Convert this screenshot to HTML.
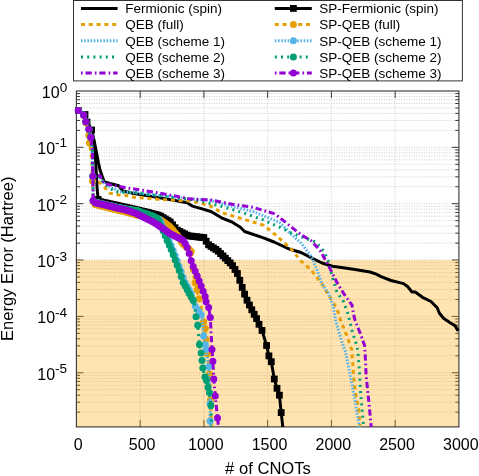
<!DOCTYPE html>
<html><head><meta charset="utf-8"><title>chart</title><style>html,body{margin:0;padding:0;background:#fff;}svg{display:block;will-change:transform;}</style></head><body>
<svg width="479" height="476" viewBox="0 0 479 476" font-family="Liberation Sans, sans-serif" fill="#000">
<rect width="479" height="476" fill="#fff"/>
<g stroke="#cdcdcd" stroke-width="1" stroke-dasharray="1 1.5" fill="none"><line x1="76.4" x2="458.9" y1="147.35" y2="147.35"/><line x1="76.4" x2="458.9" y1="203.70" y2="203.70"/><line x1="76.4" x2="458.9" y1="260.05" y2="260.05"/><line x1="76.4" x2="458.9" y1="316.40" y2="316.40"/><line x1="76.4" x2="458.9" y1="372.75" y2="372.75"/><line x1="76.4" x2="458.9" y1="130.39" y2="130.39"/><line x1="76.4" x2="458.9" y1="120.46" y2="120.46"/><line x1="76.4" x2="458.9" y1="113.42" y2="113.42"/><line x1="76.4" x2="458.9" y1="107.96" y2="107.96"/><line x1="76.4" x2="458.9" y1="103.50" y2="103.50"/><line x1="76.4" x2="458.9" y1="99.73" y2="99.73"/><line x1="76.4" x2="458.9" y1="96.46" y2="96.46"/><line x1="76.4" x2="458.9" y1="93.58" y2="93.58"/><line x1="76.4" x2="458.9" y1="186.74" y2="186.74"/><line x1="76.4" x2="458.9" y1="176.81" y2="176.81"/><line x1="76.4" x2="458.9" y1="169.77" y2="169.77"/><line x1="76.4" x2="458.9" y1="164.31" y2="164.31"/><line x1="76.4" x2="458.9" y1="159.85" y2="159.85"/><line x1="76.4" x2="458.9" y1="156.08" y2="156.08"/><line x1="76.4" x2="458.9" y1="152.81" y2="152.81"/><line x1="76.4" x2="458.9" y1="149.93" y2="149.93"/><line x1="76.4" x2="458.9" y1="243.09" y2="243.09"/><line x1="76.4" x2="458.9" y1="233.16" y2="233.16"/><line x1="76.4" x2="458.9" y1="226.12" y2="226.12"/><line x1="76.4" x2="458.9" y1="220.66" y2="220.66"/><line x1="76.4" x2="458.9" y1="216.20" y2="216.20"/><line x1="76.4" x2="458.9" y1="212.43" y2="212.43"/><line x1="76.4" x2="458.9" y1="209.16" y2="209.16"/><line x1="76.4" x2="458.9" y1="206.28" y2="206.28"/><line x1="76.4" x2="458.9" y1="299.44" y2="299.44"/><line x1="76.4" x2="458.9" y1="289.51" y2="289.51"/><line x1="76.4" x2="458.9" y1="282.47" y2="282.47"/><line x1="76.4" x2="458.9" y1="277.01" y2="277.01"/><line x1="76.4" x2="458.9" y1="272.55" y2="272.55"/><line x1="76.4" x2="458.9" y1="268.78" y2="268.78"/><line x1="76.4" x2="458.9" y1="265.51" y2="265.51"/><line x1="76.4" x2="458.9" y1="262.63" y2="262.63"/><line x1="76.4" x2="458.9" y1="355.79" y2="355.79"/><line x1="76.4" x2="458.9" y1="345.86" y2="345.86"/><line x1="76.4" x2="458.9" y1="338.82" y2="338.82"/><line x1="76.4" x2="458.9" y1="333.36" y2="333.36"/><line x1="76.4" x2="458.9" y1="328.90" y2="328.90"/><line x1="76.4" x2="458.9" y1="325.13" y2="325.13"/><line x1="76.4" x2="458.9" y1="321.86" y2="321.86"/><line x1="76.4" x2="458.9" y1="318.98" y2="318.98"/><line x1="76.4" x2="458.9" y1="412.14" y2="412.14"/><line x1="76.4" x2="458.9" y1="402.21" y2="402.21"/><line x1="76.4" x2="458.9" y1="395.17" y2="395.17"/><line x1="76.4" x2="458.9" y1="389.71" y2="389.71"/><line x1="76.4" x2="458.9" y1="385.25" y2="385.25"/><line x1="76.4" x2="458.9" y1="381.48" y2="381.48"/><line x1="76.4" x2="458.9" y1="378.21" y2="378.21"/><line x1="76.4" x2="458.9" y1="375.33" y2="375.33"/><line x1="140.15" x2="140.15" y1="91.0" y2="426.9"/><line x1="203.90" x2="203.90" y1="91.0" y2="426.9"/><line x1="267.65" x2="267.65" y1="91.0" y2="426.9"/><line x1="331.40" x2="331.40" y1="91.0" y2="426.9"/><line x1="395.15" x2="395.15" y1="91.0" y2="426.9"/></g>
<g stroke="#3a3a3a" stroke-width="1" fill="none"><line x1="76.4" x2="83.4" y1="147.35" y2="147.35"/><line x1="458.9" x2="451.9" y1="147.35" y2="147.35"/><line x1="76.4" x2="83.4" y1="203.70" y2="203.70"/><line x1="458.9" x2="451.9" y1="203.70" y2="203.70"/><line x1="76.4" x2="83.4" y1="260.05" y2="260.05"/><line x1="458.9" x2="451.9" y1="260.05" y2="260.05"/><line x1="76.4" x2="83.4" y1="316.40" y2="316.40"/><line x1="458.9" x2="451.9" y1="316.40" y2="316.40"/><line x1="76.4" x2="83.4" y1="372.75" y2="372.75"/><line x1="458.9" x2="451.9" y1="372.75" y2="372.75"/><line x1="76.4" x2="80.0" y1="130.39" y2="130.39"/><line x1="458.9" x2="455.29999999999995" y1="130.39" y2="130.39"/><line x1="76.4" x2="80.0" y1="120.46" y2="120.46"/><line x1="458.9" x2="455.29999999999995" y1="120.46" y2="120.46"/><line x1="76.4" x2="80.0" y1="113.42" y2="113.42"/><line x1="458.9" x2="455.29999999999995" y1="113.42" y2="113.42"/><line x1="76.4" x2="80.0" y1="107.96" y2="107.96"/><line x1="458.9" x2="455.29999999999995" y1="107.96" y2="107.96"/><line x1="76.4" x2="80.0" y1="103.50" y2="103.50"/><line x1="458.9" x2="455.29999999999995" y1="103.50" y2="103.50"/><line x1="76.4" x2="80.0" y1="99.73" y2="99.73"/><line x1="458.9" x2="455.29999999999995" y1="99.73" y2="99.73"/><line x1="76.4" x2="80.0" y1="96.46" y2="96.46"/><line x1="458.9" x2="455.29999999999995" y1="96.46" y2="96.46"/><line x1="76.4" x2="80.0" y1="93.58" y2="93.58"/><line x1="458.9" x2="455.29999999999995" y1="93.58" y2="93.58"/><line x1="76.4" x2="80.0" y1="186.74" y2="186.74"/><line x1="458.9" x2="455.29999999999995" y1="186.74" y2="186.74"/><line x1="76.4" x2="80.0" y1="176.81" y2="176.81"/><line x1="458.9" x2="455.29999999999995" y1="176.81" y2="176.81"/><line x1="76.4" x2="80.0" y1="169.77" y2="169.77"/><line x1="458.9" x2="455.29999999999995" y1="169.77" y2="169.77"/><line x1="76.4" x2="80.0" y1="164.31" y2="164.31"/><line x1="458.9" x2="455.29999999999995" y1="164.31" y2="164.31"/><line x1="76.4" x2="80.0" y1="159.85" y2="159.85"/><line x1="458.9" x2="455.29999999999995" y1="159.85" y2="159.85"/><line x1="76.4" x2="80.0" y1="156.08" y2="156.08"/><line x1="458.9" x2="455.29999999999995" y1="156.08" y2="156.08"/><line x1="76.4" x2="80.0" y1="152.81" y2="152.81"/><line x1="458.9" x2="455.29999999999995" y1="152.81" y2="152.81"/><line x1="76.4" x2="80.0" y1="149.93" y2="149.93"/><line x1="458.9" x2="455.29999999999995" y1="149.93" y2="149.93"/><line x1="76.4" x2="80.0" y1="243.09" y2="243.09"/><line x1="458.9" x2="455.29999999999995" y1="243.09" y2="243.09"/><line x1="76.4" x2="80.0" y1="233.16" y2="233.16"/><line x1="458.9" x2="455.29999999999995" y1="233.16" y2="233.16"/><line x1="76.4" x2="80.0" y1="226.12" y2="226.12"/><line x1="458.9" x2="455.29999999999995" y1="226.12" y2="226.12"/><line x1="76.4" x2="80.0" y1="220.66" y2="220.66"/><line x1="458.9" x2="455.29999999999995" y1="220.66" y2="220.66"/><line x1="76.4" x2="80.0" y1="216.20" y2="216.20"/><line x1="458.9" x2="455.29999999999995" y1="216.20" y2="216.20"/><line x1="76.4" x2="80.0" y1="212.43" y2="212.43"/><line x1="458.9" x2="455.29999999999995" y1="212.43" y2="212.43"/><line x1="76.4" x2="80.0" y1="209.16" y2="209.16"/><line x1="458.9" x2="455.29999999999995" y1="209.16" y2="209.16"/><line x1="76.4" x2="80.0" y1="206.28" y2="206.28"/><line x1="458.9" x2="455.29999999999995" y1="206.28" y2="206.28"/><line x1="76.4" x2="80.0" y1="299.44" y2="299.44"/><line x1="458.9" x2="455.29999999999995" y1="299.44" y2="299.44"/><line x1="76.4" x2="80.0" y1="289.51" y2="289.51"/><line x1="458.9" x2="455.29999999999995" y1="289.51" y2="289.51"/><line x1="76.4" x2="80.0" y1="282.47" y2="282.47"/><line x1="458.9" x2="455.29999999999995" y1="282.47" y2="282.47"/><line x1="76.4" x2="80.0" y1="277.01" y2="277.01"/><line x1="458.9" x2="455.29999999999995" y1="277.01" y2="277.01"/><line x1="76.4" x2="80.0" y1="272.55" y2="272.55"/><line x1="458.9" x2="455.29999999999995" y1="272.55" y2="272.55"/><line x1="76.4" x2="80.0" y1="268.78" y2="268.78"/><line x1="458.9" x2="455.29999999999995" y1="268.78" y2="268.78"/><line x1="76.4" x2="80.0" y1="265.51" y2="265.51"/><line x1="458.9" x2="455.29999999999995" y1="265.51" y2="265.51"/><line x1="76.4" x2="80.0" y1="262.63" y2="262.63"/><line x1="458.9" x2="455.29999999999995" y1="262.63" y2="262.63"/><line x1="76.4" x2="80.0" y1="355.79" y2="355.79"/><line x1="458.9" x2="455.29999999999995" y1="355.79" y2="355.79"/><line x1="76.4" x2="80.0" y1="345.86" y2="345.86"/><line x1="458.9" x2="455.29999999999995" y1="345.86" y2="345.86"/><line x1="76.4" x2="80.0" y1="338.82" y2="338.82"/><line x1="458.9" x2="455.29999999999995" y1="338.82" y2="338.82"/><line x1="76.4" x2="80.0" y1="333.36" y2="333.36"/><line x1="458.9" x2="455.29999999999995" y1="333.36" y2="333.36"/><line x1="76.4" x2="80.0" y1="328.90" y2="328.90"/><line x1="458.9" x2="455.29999999999995" y1="328.90" y2="328.90"/><line x1="76.4" x2="80.0" y1="325.13" y2="325.13"/><line x1="458.9" x2="455.29999999999995" y1="325.13" y2="325.13"/><line x1="76.4" x2="80.0" y1="321.86" y2="321.86"/><line x1="458.9" x2="455.29999999999995" y1="321.86" y2="321.86"/><line x1="76.4" x2="80.0" y1="318.98" y2="318.98"/><line x1="458.9" x2="455.29999999999995" y1="318.98" y2="318.98"/><line x1="76.4" x2="80.0" y1="412.14" y2="412.14"/><line x1="458.9" x2="455.29999999999995" y1="412.14" y2="412.14"/><line x1="76.4" x2="80.0" y1="402.21" y2="402.21"/><line x1="458.9" x2="455.29999999999995" y1="402.21" y2="402.21"/><line x1="76.4" x2="80.0" y1="395.17" y2="395.17"/><line x1="458.9" x2="455.29999999999995" y1="395.17" y2="395.17"/><line x1="76.4" x2="80.0" y1="389.71" y2="389.71"/><line x1="458.9" x2="455.29999999999995" y1="389.71" y2="389.71"/><line x1="76.4" x2="80.0" y1="385.25" y2="385.25"/><line x1="458.9" x2="455.29999999999995" y1="385.25" y2="385.25"/><line x1="76.4" x2="80.0" y1="381.48" y2="381.48"/><line x1="458.9" x2="455.29999999999995" y1="381.48" y2="381.48"/><line x1="76.4" x2="80.0" y1="378.21" y2="378.21"/><line x1="458.9" x2="455.29999999999995" y1="378.21" y2="378.21"/><line x1="76.4" x2="80.0" y1="375.33" y2="375.33"/><line x1="458.9" x2="455.29999999999995" y1="375.33" y2="375.33"/><line x1="140.15" x2="140.15" y1="426.9" y2="419.9"/><line x1="140.15" x2="140.15" y1="91.0" y2="98.0"/><line x1="203.90" x2="203.90" y1="426.9" y2="419.9"/><line x1="203.90" x2="203.90" y1="91.0" y2="98.0"/><line x1="267.65" x2="267.65" y1="426.9" y2="419.9"/><line x1="267.65" x2="267.65" y1="91.0" y2="98.0"/><line x1="331.40" x2="331.40" y1="426.9" y2="419.9"/><line x1="331.40" x2="331.40" y1="91.0" y2="98.0"/><line x1="395.15" x2="395.15" y1="426.9" y2="419.9"/><line x1="395.15" x2="395.15" y1="91.0" y2="98.0"/></g>
<rect x="76.4" y="260.05" width="382.5" height="166.85" fill="rgb(255,165,0)" fill-opacity="0.3"/>
<rect x="76.4" y="91.0" width="382.5" height="335.9" fill="none" stroke="#333" stroke-width="1.1"/>
<clipPath id="cp"><rect x="72.4" y="91.0" width="390.5" height="335.9"/></clipPath>
<g clip-path="url(#cp)"><path d="M78.4,110.6 L85.0,114.5 L87.0,122.0 L91.6,130.0 L94.0,140.0 L96.0,150.0 L98.4,162.6 L100.0,170.0 L104.0,181.6 L110.0,183.5 L118.7,185.8 L122.9,191.0 L134.0,193.5 L160.0,197.8 L187.2,202.8 L192.3,206.1 L200.5,208.4 L211.0,211.5 L221.5,217.8 L232.0,222.0 L240.4,227.3 L244.6,231.5 L263.5,237.8 L274.0,242.0 L290.0,249.3 L301.0,252.5 L311.5,257.8 L322.0,263.0 L332.5,266.2 L353.5,269.3 L370.0,272.0 L376.3,274.2 L380.5,276.3 L391.0,280.5 L403.6,283.6 L407.8,286.8 L412.0,292.0 L415.2,292.0 L422.5,297.3 L431.0,301.5 L437.2,307.8 L439.3,313.0 L443.5,318.3 L449.8,322.5 L455.0,325.6 L458.2,330.9" fill="none" stroke="#000000" stroke-width="3" stroke-linejoin="round"/><path d="M78.3,110.6 L83.6,114.9 L85.8,121.7 L88.9,129.3 L90.8,137.2 L92.3,150.0 L92.6,178.0 L98.0,181.0 L104.5,187.3 L109.2,193.1 L117.6,194.7 L125.0,195.2 L134.0,197.3 L160.0,199.5 L190.0,201.0 L200.0,202.8 L211.0,206.3 L221.5,212.6 L242.5,218.9 L263.5,225.2 L274.0,233.6 L280.0,238.9 L290.5,248.3 L301.0,261.0 L311.5,270.4 L322.0,284.0 L328.5,295.1 L336.9,308.6 L341.1,322.0 L346.1,333.8 L350.3,345.5 L351.8,350.0 L353.5,375.2 L355.2,392.0 L358.6,408.8 L360.0,426.9" fill="none" stroke="#E69F00" stroke-width="3" stroke-linejoin="round" stroke-dasharray="4 3.8"/><path d="M78.3,110.6 L83.6,114.9 L85.8,121.7 L88.9,129.3 L90.8,137.2 L92.3,150.0 L92.9,176.3 L99.0,176.5 L105.0,184.5 L114.5,189.0 L120.0,191.8 L134.0,192.6 L160.0,195.5 L190.0,199.0 L211.0,200.5 L232.0,206.3 L253.0,211.5 L274.0,220.0 L280.0,223.0 L290.5,233.6 L301.0,243.0 L311.5,256.7 L316.8,269.3 L322.0,284.0 L328.5,293.4 L333.5,306.9 L335.2,318.7 L339.4,333.8 L343.6,347.2 L345.1,350.0 L350.2,375.2 L354.4,397.0 L357.7,417.2 L359.4,426.9" fill="none" stroke="#56B4E9" stroke-width="3" stroke-linejoin="round" stroke-dasharray="1.6 1.6"/><path d="M78.3,110.6 L83.6,114.9 L85.8,121.7 L88.9,129.3 L90.8,137.2 L92.3,150.0 L92.9,176.3 L99.0,176.5 L105.0,184.2 L115.5,192.0 L134.0,192.5 L160.0,195.8 L190.0,199.5 L200.5,201.0 L221.5,206.3 L242.5,212.6 L263.5,220.0 L280.0,227.3 L290.5,232.6 L301.0,236.8 L315.7,242.0 L324.0,251.5 L328.3,261.0 L332.5,277.7 L336.9,291.8 L343.6,301.8 L347.8,313.6 L352.0,330.4 L356.2,343.9 L357.7,350.0 L359.4,370.2 L360.6,392.0 L362.8,417.2 L363.6,426.9" fill="none" stroke="#009E73" stroke-width="3" stroke-linejoin="round" stroke-dasharray="2 4.2"/><path d="M78.3,110.6 L83.6,114.9 L85.8,121.7 L88.9,129.3 L90.8,137.2 L92.3,150.0 L92.9,176.3 L99.8,175.5 L104.5,183.7 L115.5,185.8 L120.8,186.8 L126.0,187.9 L134.0,188.9 L160.0,193.2 L190.0,198.9 L211.0,200.0 L232.0,204.2 L253.0,207.3 L274.0,213.6 L280.0,217.9 L290.5,226.3 L301.0,234.7 L311.5,241.0 L320.0,250.4 L328.3,265.1 L336.7,282.0 L343.6,293.4 L352.0,305.2 L354.5,318.7 L360.4,333.8 L364.6,345.5 L365.5,360.0 L366.1,375.2 L368.7,400.4 L371.2,426.9" fill="none" stroke="#9400D3" stroke-width="3" stroke-linejoin="round" stroke-dasharray="6.3 3 1.7 2.8" stroke-dashoffset="9.3"/><path d="M78.4,110.6 L85.0,114.5 L87.0,122.0 L91.6,130.0 L93.6,140.0 L94.8,150.0 L95.6,160.0 L96.4,175.0 L97.2,190.0 L98.2,199.5 L100.5,201.8 L110.0,203.8 L120.0,206.0 L134.0,209.2 L150.0,213.0 L159.5,215.4 L170.4,222.1 L176.9,230.0 L188.7,235.9 L203.8,237.6 L208.8,245.1 L217.2,250.2 L224.0,256.9 L232.0,264.6 L237.7,274.0 L241.5,285.4 L246.2,298.6 L252.8,311.8 L257.4,320.0 L260.0,327.0 L262.0,330.4 L266.6,345.5 L268.9,355.9 L271.3,361.7 L274.3,379.0 L277.0,388.3 L279.4,395.2 L281.2,412.6 L282.8,426.9" fill="none" stroke="#000000" stroke-width="3" stroke-linejoin="round"/><g fill="#000000"><rect x="75.0" y="107.2" width="6.8" height="6.8"/><rect x="81.6" y="111.1" width="6.8" height="6.8"/><rect x="83.6" y="118.6" width="6.8" height="6.8"/><rect x="88.2" y="126.6" width="6.8" height="6.8"/><rect x="94.8" y="196.1" width="6.8" height="6.8"/><rect x="97.2" y="198.4" width="6.8" height="6.8"/><rect x="99.6" y="198.9" width="6.8" height="6.8"/><rect x="102.0" y="199.4" width="6.8" height="6.8"/><rect x="104.4" y="199.9" width="6.8" height="6.8"/><rect x="106.8" y="200.4" width="6.8" height="6.8"/><rect x="109.2" y="201.0" width="6.8" height="6.8"/><rect x="111.6" y="201.5" width="6.8" height="6.8"/><rect x="114.0" y="202.0" width="6.8" height="6.8"/><rect x="116.4" y="202.6" width="6.8" height="6.8"/><rect x="118.8" y="203.1" width="6.8" height="6.8"/><rect x="121.2" y="203.7" width="6.8" height="6.8"/><rect x="123.6" y="204.2" width="6.8" height="6.8"/><rect x="126.0" y="204.7" width="6.8" height="6.8"/><rect x="128.4" y="205.3" width="6.8" height="6.8"/><rect x="130.8" y="205.8" width="6.8" height="6.8"/><rect x="133.2" y="206.4" width="6.8" height="6.8"/><rect x="135.6" y="207.0" width="6.8" height="6.8"/><rect x="138.0" y="207.6" width="6.8" height="6.8"/><rect x="140.4" y="208.1" width="6.8" height="6.8"/><rect x="142.8" y="208.7" width="6.8" height="6.8"/><rect x="145.2" y="209.3" width="6.8" height="6.8"/><rect x="147.6" y="209.9" width="6.8" height="6.8"/><rect x="150.0" y="210.5" width="6.8" height="6.8"/><rect x="152.4" y="211.1" width="6.8" height="6.8"/><rect x="154.8" y="211.7" width="6.8" height="6.8"/><rect x="157.2" y="212.7" width="6.8" height="6.8"/><rect x="159.6" y="214.2" width="6.8" height="6.8"/><rect x="162.0" y="215.6" width="6.8" height="6.8"/><rect x="164.4" y="217.1" width="6.8" height="6.8"/><rect x="166.8" y="218.6" width="6.8" height="6.8"/><rect x="169.2" y="221.4" width="6.8" height="6.8"/><rect x="171.6" y="224.3" width="6.8" height="6.8"/><rect x="174.0" y="226.9" width="6.8" height="6.8"/><rect x="176.4" y="228.1" width="6.8" height="6.8"/><rect x="178.8" y="229.3" width="6.8" height="6.8"/><rect x="181.2" y="230.5" width="6.8" height="6.8"/><rect x="183.6" y="231.7" width="6.8" height="6.8"/><rect x="186.0" y="232.6" width="6.8" height="6.8"/><rect x="188.4" y="232.8" width="6.8" height="6.8"/><rect x="190.8" y="233.1" width="6.8" height="6.8"/><rect x="193.2" y="233.4" width="6.8" height="6.8"/><rect x="195.6" y="233.7" width="6.8" height="6.8"/><rect x="198.0" y="233.9" width="6.8" height="6.8"/><rect x="200.4" y="234.2" width="6.8" height="6.8"/><rect x="202.8" y="237.8" width="6.8" height="6.8"/><rect x="205.2" y="241.4" width="6.8" height="6.8"/><rect x="207.6" y="243.0" width="6.8" height="6.8"/><rect x="210.0" y="244.5" width="6.8" height="6.8"/><rect x="212.4" y="246.0" width="6.8" height="6.8"/><rect x="214.8" y="247.8" width="6.8" height="6.8"/><rect x="217.2" y="250.2" width="6.8" height="6.8"/><rect x="219.6" y="252.5" width="6.8" height="6.8"/><rect x="222.0" y="254.8" width="6.8" height="6.8"/><rect x="224.4" y="257.2" width="6.8" height="6.8"/><rect x="226.8" y="259.5" width="6.8" height="6.8"/><rect x="229.2" y="262.2" width="6.8" height="6.8"/><rect x="231.6" y="266.1" width="6.8" height="6.8"/><rect x="234.0" y="270.1" width="6.8" height="6.8"/><rect x="236.4" y="276.9" width="6.8" height="6.8"/><rect x="238.8" y="284.0" width="6.8" height="6.8"/><rect x="241.2" y="290.7" width="6.8" height="6.8"/><rect x="243.6" y="296.8" width="6.8" height="6.8"/><rect x="246.0" y="301.6" width="6.8" height="6.8"/><rect x="248.4" y="306.4" width="6.8" height="6.8"/><rect x="250.8" y="310.9" width="6.8" height="6.8"/><rect x="253.2" y="315.2" width="6.8" height="6.8"/><rect x="255.6" y="320.9" width="6.8" height="6.8"/><rect x="258.6" y="327.0" width="6.8" height="6.8"/><rect x="263.2" y="342.1" width="6.8" height="6.8"/><rect x="265.5" y="352.5" width="6.8" height="6.8"/><rect x="267.9" y="358.3" width="6.8" height="6.8"/><rect x="270.9" y="375.6" width="6.8" height="6.8"/><rect x="273.6" y="384.9" width="6.8" height="6.8"/><rect x="276.0" y="391.8" width="6.8" height="6.8"/><rect x="277.8" y="409.2" width="6.8" height="6.8"/></g><path d="M78.3,110.6 L83.6,115.5 L85.8,122.5 L88.9,135.3 L89.5,142.9 L91.8,160.0 L92.4,181.0 L93.2,199.0 L94.5,204.3 L105.0,207.0 L115.5,209.5 L126.0,212.0 L136.8,215.2 L150.0,217.5 L160.3,219.5 L170.4,227.0 L178.8,237.0 L182.0,243.4 L188.0,248.0 L191.4,251.8 L192.6,263.6 L194.5,280.4 L197.0,288.8 L199.6,300.6 L201.1,306.7 L203.6,321.8 L205.3,328.6 L206.1,339.5 L207.8,353.8 L209.5,374.0 L210.5,400.0 L211.5,426.9" fill="none" stroke="#E69F00" stroke-width="3" stroke-linejoin="round" stroke-dasharray="4 3.8"/><g fill="#E69F00"><circle cx="78.3" cy="110.6" r="3.5"/><circle cx="83.6" cy="115.5" r="3.5"/><circle cx="85.8" cy="122.5" r="3.5"/><circle cx="88.9" cy="135.3" r="3.5"/><circle cx="89.5" cy="142.9" r="3.5"/><circle cx="92.4" cy="181.0" r="3.5"/><circle cx="93.2" cy="201.5" r="3.5"/><circle cx="95.2" cy="204.5" r="3.5"/><circle cx="97.2" cy="205.0" r="3.5"/><circle cx="99.2" cy="205.5" r="3.5"/><circle cx="101.2" cy="206.0" r="3.5"/><circle cx="103.2" cy="206.5" r="3.5"/><circle cx="105.2" cy="207.0" r="3.5"/><circle cx="107.2" cy="207.5" r="3.5"/><circle cx="109.2" cy="208.0" r="3.5"/><circle cx="111.2" cy="208.5" r="3.5"/><circle cx="113.2" cy="209.0" r="3.5"/><circle cx="115.2" cy="209.4" r="3.5"/><circle cx="117.2" cy="209.9" r="3.5"/><circle cx="119.2" cy="210.4" r="3.5"/><circle cx="121.2" cy="210.9" r="3.5"/><circle cx="123.2" cy="211.3" r="3.5"/><circle cx="125.2" cy="211.8" r="3.5"/><circle cx="127.2" cy="212.4" r="3.5"/><circle cx="129.2" cy="212.9" r="3.5"/><circle cx="131.2" cy="213.5" r="3.5"/><circle cx="133.2" cy="214.1" r="3.5"/><circle cx="135.2" cy="214.7" r="3.5"/><circle cx="137.2" cy="215.3" r="3.5"/><circle cx="139.2" cy="215.6" r="3.5"/><circle cx="141.2" cy="216.0" r="3.5"/><circle cx="143.2" cy="216.3" r="3.5"/><circle cx="145.2" cy="216.7" r="3.5"/><circle cx="147.2" cy="217.0" r="3.5"/><circle cx="149.2" cy="217.4" r="3.5"/><circle cx="151.2" cy="217.7" r="3.5"/><circle cx="153.2" cy="218.1" r="3.5"/><circle cx="155.2" cy="218.5" r="3.5"/><circle cx="157.2" cy="218.9" r="3.5"/><circle cx="159.2" cy="219.3" r="3.5"/><circle cx="161.2" cy="220.2" r="3.5"/><circle cx="163.2" cy="221.7" r="3.5"/><circle cx="165.2" cy="223.1" r="3.5"/><circle cx="167.2" cy="224.6" r="3.5"/><circle cx="169.2" cy="226.1" r="3.5"/><circle cx="171.2" cy="228.0" r="3.5"/><circle cx="173.2" cy="230.3" r="3.5"/><circle cx="175.2" cy="232.7" r="3.5"/><circle cx="177.2" cy="235.1" r="3.5"/><circle cx="179.2" cy="237.8" r="3.5"/><circle cx="181.2" cy="241.8" r="3.5"/><circle cx="183.2" cy="244.3" r="3.5"/><circle cx="185.2" cy="245.9" r="3.5"/><circle cx="187.2" cy="247.4" r="3.5"/><circle cx="189.2" cy="249.3" r="3.5"/><circle cx="191.2" cy="251.6" r="3.5"/><circle cx="193.2" cy="268.9" r="3.5"/><circle cx="195.2" cy="282.8" r="3.5"/><circle cx="197.2" cy="289.7" r="3.5"/><circle cx="199.2" cy="298.8" r="3.5"/><circle cx="203.6" cy="321.8" r="3.5"/><circle cx="205.3" cy="328.6" r="3.5"/><circle cx="206.1" cy="339.5" r="3.5"/><circle cx="207.8" cy="353.8" r="3.5"/><circle cx="209.5" cy="374.0" r="3.5"/><circle cx="210.5" cy="400.0" r="3.5"/></g><path d="M78.3,110.6 L83.6,114.9 L85.8,121.7 L88.9,129.3 L90.8,137.2 L92.3,150.0 L92.9,176.3 L93.2,200.4 L94.5,202.0 L105.0,204.4 L115.5,206.8 L126.0,209.0 L136.8,211.0 L153.6,216.8 L160.0,219.8 L164.5,231.0 L170.0,243.0 L173.0,250.0 L181.3,272.0 L184.8,282.0 L191.3,294.0 L195.4,306.7 L202.0,316.0 L203.6,336.1 L205.3,344.5 L206.1,349.6 L208.7,366.6 L210.1,403.4 L210.1,421.0 L210.3,426.9" fill="none" stroke="#56B4E9" stroke-width="3" stroke-linejoin="round" stroke-dasharray="1.6 1.6"/><g fill="#56B4E9"><circle cx="78.3" cy="110.6" r="3.5"/><circle cx="83.6" cy="114.9" r="3.5"/><circle cx="85.8" cy="121.7" r="3.5"/><circle cx="88.9" cy="129.3" r="3.5"/><circle cx="90.8" cy="137.2" r="3.5"/><circle cx="92.9" cy="176.3" r="3.5"/><circle cx="93.2" cy="200.4" r="3.5"/><circle cx="95.2" cy="202.2" r="3.5"/><circle cx="97.2" cy="202.6" r="3.5"/><circle cx="99.2" cy="203.1" r="3.5"/><circle cx="101.2" cy="203.5" r="3.5"/><circle cx="103.2" cy="204.0" r="3.5"/><circle cx="105.2" cy="204.4" r="3.5"/><circle cx="107.2" cy="204.9" r="3.5"/><circle cx="109.2" cy="205.4" r="3.5"/><circle cx="111.2" cy="205.8" r="3.5"/><circle cx="113.2" cy="206.3" r="3.5"/><circle cx="115.2" cy="206.7" r="3.5"/><circle cx="117.2" cy="207.2" r="3.5"/><circle cx="119.2" cy="207.6" r="3.5"/><circle cx="121.2" cy="208.0" r="3.5"/><circle cx="123.2" cy="208.4" r="3.5"/><circle cx="125.2" cy="208.8" r="3.5"/><circle cx="127.2" cy="209.2" r="3.5"/><circle cx="129.2" cy="209.6" r="3.5"/><circle cx="131.2" cy="210.0" r="3.5"/><circle cx="133.2" cy="210.3" r="3.5"/><circle cx="135.2" cy="210.7" r="3.5"/><circle cx="137.2" cy="211.1" r="3.5"/><circle cx="139.2" cy="211.8" r="3.5"/><circle cx="141.2" cy="212.5" r="3.5"/><circle cx="143.2" cy="213.2" r="3.5"/><circle cx="145.2" cy="213.9" r="3.5"/><circle cx="147.2" cy="214.6" r="3.5"/><circle cx="149.2" cy="215.3" r="3.5"/><circle cx="151.2" cy="216.0" r="3.5"/><circle cx="153.2" cy="216.7" r="3.5"/><circle cx="155.2" cy="217.6" r="3.5"/><circle cx="157.2" cy="218.5" r="3.5"/><circle cx="159.2" cy="219.4" r="3.5"/><circle cx="161.2" cy="222.8" r="3.5"/><circle cx="163.2" cy="227.8" r="3.5"/><circle cx="165.2" cy="232.5" r="3.5"/><circle cx="167.2" cy="236.9" r="3.5"/><circle cx="169.2" cy="241.3" r="3.5"/><circle cx="171.2" cy="245.8" r="3.5"/><circle cx="173.2" cy="250.5" r="3.5"/><circle cx="175.2" cy="255.8" r="3.5"/><circle cx="177.2" cy="261.1" r="3.5"/><circle cx="179.2" cy="266.4" r="3.5"/><circle cx="181.2" cy="271.7" r="3.5"/><circle cx="183.2" cy="277.4" r="3.5"/><circle cx="185.2" cy="282.7" r="3.5"/><circle cx="187.2" cy="286.4" r="3.5"/><circle cx="189.2" cy="290.1" r="3.5"/><circle cx="191.2" cy="293.8" r="3.5"/><circle cx="193.2" cy="299.9" r="3.5"/><circle cx="195.2" cy="306.1" r="3.5"/><circle cx="197.2" cy="309.2" r="3.5"/><circle cx="199.2" cy="312.1" r="3.5"/><circle cx="201.2" cy="314.9" r="3.5"/><circle cx="203.6" cy="336.1" r="3.5"/><circle cx="205.3" cy="344.5" r="3.5"/><circle cx="206.1" cy="349.6" r="3.5"/><circle cx="208.7" cy="366.6" r="3.5"/><circle cx="210.1" cy="403.4" r="3.5"/><circle cx="210.1" cy="421.0" r="3.5"/></g><path d="M78.3,110.6 L83.6,114.9 L85.8,121.7 L88.9,129.3 L90.8,137.2 L92.3,150.0 L92.9,176.3 L93.2,200.6 L94.5,202.3 L105.0,204.7 L115.5,207.2 L126.0,209.4 L136.8,210.5 L153.6,216.2 L158.7,219.5 L162.8,230.0 L168.3,243.0 L171.5,250.2 L179.8,272.0 L183.0,282.0 L189.5,293.9 L193.0,300.0 L194.6,305.0 L196.0,316.8 L197.7,325.2 L199.4,344.5 L201.1,353.0 L202.0,360.5 L202.8,368.0 L205.0,377.0 L206.5,380.6 L208.0,387.2 L209.4,392.4 L210.9,405.6 L211.5,426.9" fill="none" stroke="#009E73" stroke-width="3" stroke-linejoin="round" stroke-dasharray="2 4.2"/><g fill="#009E73"><circle cx="78.3" cy="110.6" r="3.5"/><circle cx="83.6" cy="114.9" r="3.5"/><circle cx="85.8" cy="121.7" r="3.5"/><circle cx="88.9" cy="129.3" r="3.5"/><circle cx="90.8" cy="137.2" r="3.5"/><circle cx="92.9" cy="176.3" r="3.5"/><circle cx="93.2" cy="200.6" r="3.5"/><circle cx="95.2" cy="202.5" r="3.5"/><circle cx="97.2" cy="202.9" r="3.5"/><circle cx="99.2" cy="203.4" r="3.5"/><circle cx="101.2" cy="203.8" r="3.5"/><circle cx="103.2" cy="204.3" r="3.5"/><circle cx="105.2" cy="204.7" r="3.5"/><circle cx="107.2" cy="205.2" r="3.5"/><circle cx="109.2" cy="205.7" r="3.5"/><circle cx="111.2" cy="206.2" r="3.5"/><circle cx="113.2" cy="206.7" r="3.5"/><circle cx="115.2" cy="207.1" r="3.5"/><circle cx="117.2" cy="207.6" r="3.5"/><circle cx="119.2" cy="208.0" r="3.5"/><circle cx="121.2" cy="208.4" r="3.5"/><circle cx="123.2" cy="208.8" r="3.5"/><circle cx="125.2" cy="209.2" r="3.5"/><circle cx="127.2" cy="209.5" r="3.5"/><circle cx="129.2" cy="209.7" r="3.5"/><circle cx="131.2" cy="209.9" r="3.5"/><circle cx="133.2" cy="210.1" r="3.5"/><circle cx="135.2" cy="210.3" r="3.5"/><circle cx="137.2" cy="210.6" r="3.5"/><circle cx="139.2" cy="211.3" r="3.5"/><circle cx="141.2" cy="212.0" r="3.5"/><circle cx="143.2" cy="212.7" r="3.5"/><circle cx="145.2" cy="213.3" r="3.5"/><circle cx="147.2" cy="214.0" r="3.5"/><circle cx="149.2" cy="214.7" r="3.5"/><circle cx="151.2" cy="215.4" r="3.5"/><circle cx="153.2" cy="216.1" r="3.5"/><circle cx="155.2" cy="217.2" r="3.5"/><circle cx="157.2" cy="218.5" r="3.5"/><circle cx="159.2" cy="220.8" r="3.5"/><circle cx="161.2" cy="225.9" r="3.5"/><circle cx="163.2" cy="230.9" r="3.5"/><circle cx="165.2" cy="235.7" r="3.5"/><circle cx="167.2" cy="240.4" r="3.5"/><circle cx="169.2" cy="245.0" r="3.5"/><circle cx="171.2" cy="249.5" r="3.5"/><circle cx="173.2" cy="254.7" r="3.5"/><circle cx="175.2" cy="259.9" r="3.5"/><circle cx="177.2" cy="265.2" r="3.5"/><circle cx="179.2" cy="270.4" r="3.5"/><circle cx="181.2" cy="276.4" r="3.5"/><circle cx="183.2" cy="282.4" r="3.5"/><circle cx="185.2" cy="286.0" r="3.5"/><circle cx="187.2" cy="289.7" r="3.5"/><circle cx="189.2" cy="293.4" r="3.5"/><circle cx="191.2" cy="296.9" r="3.5"/><circle cx="193.2" cy="300.6" r="3.5"/><circle cx="196.0" cy="316.8" r="3.5"/><circle cx="197.7" cy="325.2" r="3.5"/><circle cx="199.4" cy="344.5" r="3.5"/><circle cx="201.1" cy="353.0" r="3.5"/><circle cx="202.0" cy="360.5" r="3.5"/><circle cx="202.8" cy="368.0" r="3.5"/><circle cx="205.0" cy="377.0" r="3.5"/><circle cx="206.5" cy="380.6" r="3.5"/><circle cx="208.0" cy="387.2" r="3.5"/><circle cx="209.4" cy="392.4" r="3.5"/><circle cx="210.9" cy="405.6" r="3.5"/></g><path d="M78.3,110.6 L83.6,114.9 L85.8,121.7 L88.9,129.3 L90.8,137.2 L92.3,150.0 L92.9,176.3 L93.2,199.0 L94.5,202.6 L105.0,205.0 L115.5,207.5 L126.0,210.0 L136.0,213.4 L153.6,222.1 L165.1,230.0 L170.4,233.9 L183.6,240.5 L187.8,248.5 L192.0,263.6 L200.4,283.8 L205.5,297.2 L206.1,301.7 L208.7,307.6 L210.3,317.6 L212.0,349.6 L212.9,361.3 L213.8,379.1 L215.3,396.0 L217.5,418.0 L218.5,426.9" fill="none" stroke="#9400D3" stroke-width="3" stroke-linejoin="round" stroke-dasharray="6.3 3 1.7 2.8" stroke-dashoffset="9.3"/><g fill="#9400D3"><circle cx="78.3" cy="110.6" r="3.5"/><circle cx="83.6" cy="114.9" r="3.5"/><circle cx="85.8" cy="121.7" r="3.5"/><circle cx="88.9" cy="129.3" r="3.5"/><circle cx="90.8" cy="137.2" r="3.5"/><circle cx="92.9" cy="176.3" r="3.5"/><circle cx="93.2" cy="200.8" r="3.5"/><circle cx="95.2" cy="202.8" r="3.5"/><circle cx="97.2" cy="203.2" r="3.5"/><circle cx="99.2" cy="203.7" r="3.5"/><circle cx="101.2" cy="204.1" r="3.5"/><circle cx="103.2" cy="204.6" r="3.5"/><circle cx="105.2" cy="205.0" r="3.5"/><circle cx="107.2" cy="205.5" r="3.5"/><circle cx="109.2" cy="206.0" r="3.5"/><circle cx="111.2" cy="206.5" r="3.5"/><circle cx="113.2" cy="207.0" r="3.5"/><circle cx="115.2" cy="207.4" r="3.5"/><circle cx="117.2" cy="207.9" r="3.5"/><circle cx="119.2" cy="208.4" r="3.5"/><circle cx="121.2" cy="208.9" r="3.5"/><circle cx="123.2" cy="209.3" r="3.5"/><circle cx="125.2" cy="209.8" r="3.5"/><circle cx="127.2" cy="210.4" r="3.5"/><circle cx="129.2" cy="211.1" r="3.5"/><circle cx="131.2" cy="211.8" r="3.5"/><circle cx="133.2" cy="212.4" r="3.5"/><circle cx="135.2" cy="213.1" r="3.5"/><circle cx="137.2" cy="214.0" r="3.5"/><circle cx="139.2" cy="215.0" r="3.5"/><circle cx="141.2" cy="216.0" r="3.5"/><circle cx="143.2" cy="217.0" r="3.5"/><circle cx="145.2" cy="217.9" r="3.5"/><circle cx="147.2" cy="218.9" r="3.5"/><circle cx="149.2" cy="219.9" r="3.5"/><circle cx="151.2" cy="220.9" r="3.5"/><circle cx="153.2" cy="221.9" r="3.5"/><circle cx="155.2" cy="223.2" r="3.5"/><circle cx="157.2" cy="224.6" r="3.5"/><circle cx="159.2" cy="225.9" r="3.5"/><circle cx="161.2" cy="227.3" r="3.5"/><circle cx="163.2" cy="228.7" r="3.5"/><circle cx="165.2" cy="230.1" r="3.5"/><circle cx="167.2" cy="231.5" r="3.5"/><circle cx="169.2" cy="233.0" r="3.5"/><circle cx="171.2" cy="234.3" r="3.5"/><circle cx="173.2" cy="235.3" r="3.5"/><circle cx="175.2" cy="236.3" r="3.5"/><circle cx="177.2" cy="237.3" r="3.5"/><circle cx="179.2" cy="238.3" r="3.5"/><circle cx="181.2" cy="239.3" r="3.5"/><circle cx="183.2" cy="240.3" r="3.5"/><circle cx="185.2" cy="243.5" r="3.5"/><circle cx="187.2" cy="247.4" r="3.5"/><circle cx="189.2" cy="253.5" r="3.5"/><circle cx="191.2" cy="260.7" r="3.5"/><circle cx="193.2" cy="266.5" r="3.5"/><circle cx="195.2" cy="271.3" r="3.5"/><circle cx="197.2" cy="276.1" r="3.5"/><circle cx="199.2" cy="280.9" r="3.5"/><circle cx="201.2" cy="285.9" r="3.5"/><circle cx="203.2" cy="291.2" r="3.5"/><circle cx="205.2" cy="296.4" r="3.5"/><circle cx="206.1" cy="301.7" r="3.5"/><circle cx="208.7" cy="307.6" r="3.5"/><circle cx="210.3" cy="317.6" r="3.5"/><circle cx="212.0" cy="349.6" r="3.5"/><circle cx="212.9" cy="361.3" r="3.5"/><circle cx="213.8" cy="379.1" r="3.5"/><circle cx="215.3" cy="396.0" r="3.5"/><circle cx="217.5" cy="418.0" r="3.5"/></g></g>
<text x="78.3" y="450" font-size="16" text-anchor="middle">0</text>
<text x="142.1" y="450" font-size="16" text-anchor="middle">500</text>
<text x="205.8" y="450" font-size="16" text-anchor="middle">1000</text>
<text x="269.5" y="450" font-size="16" text-anchor="middle">1500</text>
<text x="333.3" y="450" font-size="16" text-anchor="middle">2000</text>
<text x="397.0" y="450" font-size="16" text-anchor="middle">2500</text>
<text x="460.8" y="450" font-size="16" text-anchor="middle">3000</text>
<text x="67.2" y="97.8" font-size="16" text-anchor="end">10<tspan dy="-6.3" font-size="13.6">0</tspan></text>
<text x="67.2" y="153.6" font-size="16" text-anchor="end">10<tspan dy="-6.3" font-size="13.6">-1</tspan></text>
<text x="67.2" y="210.5" font-size="16" text-anchor="end">10<tspan dy="-6.3" font-size="13.6">-2</tspan></text>
<text x="67.2" y="266.9" font-size="16" text-anchor="end">10<tspan dy="-6.3" font-size="13.6">-3</tspan></text>
<text x="67.2" y="323.2" font-size="16" text-anchor="end">10<tspan dy="-6.3" font-size="13.6">-4</tspan></text>
<text x="67.2" y="379.6" font-size="16" text-anchor="end">10<tspan dy="-6.3" font-size="13.6">-5</tspan></text>
<text x="268" y="473.8" font-size="16.6" text-anchor="middle"># of CNOTs</text>
<text transform="translate(13.3,258.8) rotate(-90)" font-size="16.55" text-anchor="middle">Energy Error (Hartree)</text>
<rect x="73.5" y="0.5" width="388.9" height="80.4" fill="#fff" stroke="#333" stroke-width="1"/>
<line x1="81" x2="117.6" y1="8.4" y2="8.4" stroke="#000000" stroke-width="3"/>
<text x="125.2" y="13.2" font-size="13.5">Fermionic (spin)</text>
<line x1="274.8" x2="311.8" y1="8.4" y2="8.4" stroke="#000000" stroke-width="3"/>
<g fill="#000000"><rect x="290.0" y="5.0" width="6.8" height="6.8"/></g>
<text x="319.3" y="13.2" font-size="13.5">SP-Fermionic (spin)</text>
<line x1="81" x2="117.6" y1="24.5" y2="24.5" stroke="#E69F00" stroke-width="3" stroke-dasharray="4 3.8"/>
<text x="125.2" y="29.3" font-size="13.5">QEB (full)</text>
<line x1="274.8" x2="311.8" y1="24.5" y2="24.5" stroke="#E69F00" stroke-width="3" stroke-dasharray="4 3.8"/>
<g fill="#E69F00"><circle cx="293.4" cy="24.5" r="3.5"/></g>
<text x="319.3" y="29.3" font-size="13.5">SP-QEB (full)</text>
<line x1="81" x2="117.6" y1="40.8" y2="40.8" stroke="#56B4E9" stroke-width="3" stroke-dasharray="1.6 1.6"/>
<text x="125.2" y="45.6" font-size="13.5">QEB (scheme 1)</text>
<line x1="274.8" x2="311.8" y1="40.8" y2="40.8" stroke="#56B4E9" stroke-width="3" stroke-dasharray="1.6 1.6"/>
<g fill="#56B4E9"><circle cx="293.4" cy="40.8" r="3.5"/></g>
<text x="319.3" y="45.6" font-size="13.5">SP-QEB (scheme 1)</text>
<line x1="81" x2="117.6" y1="56.9" y2="56.9" stroke="#009E73" stroke-width="3" stroke-dasharray="2 4.2"/>
<text x="125.2" y="61.7" font-size="13.5">QEB (scheme 2)</text>
<line x1="274.8" x2="311.8" y1="56.9" y2="56.9" stroke="#009E73" stroke-width="3" stroke-dasharray="2 4.2"/>
<g fill="#009E73"><circle cx="293.4" cy="56.9" r="3.5"/></g>
<text x="319.3" y="61.7" font-size="13.5">SP-QEB (scheme 2)</text>
<line x1="81" x2="117.6" y1="73.0" y2="73.0" stroke="#9400D3" stroke-width="3" stroke-dasharray="6.3 3 1.7 2.8" stroke-dashoffset="9.3"/>
<text x="125.2" y="77.8" font-size="13.5">QEB (scheme 3)</text>
<line x1="274.8" x2="311.8" y1="73.0" y2="73.0" stroke="#9400D3" stroke-width="3" stroke-dasharray="6.3 3 1.7 2.8" stroke-dashoffset="9.3"/>
<g fill="#9400D3"><circle cx="293.4" cy="73.0" r="3.5"/></g>
<text x="319.3" y="77.8" font-size="13.5">SP-QEB (scheme 3)</text>
</svg>
</body></html>
